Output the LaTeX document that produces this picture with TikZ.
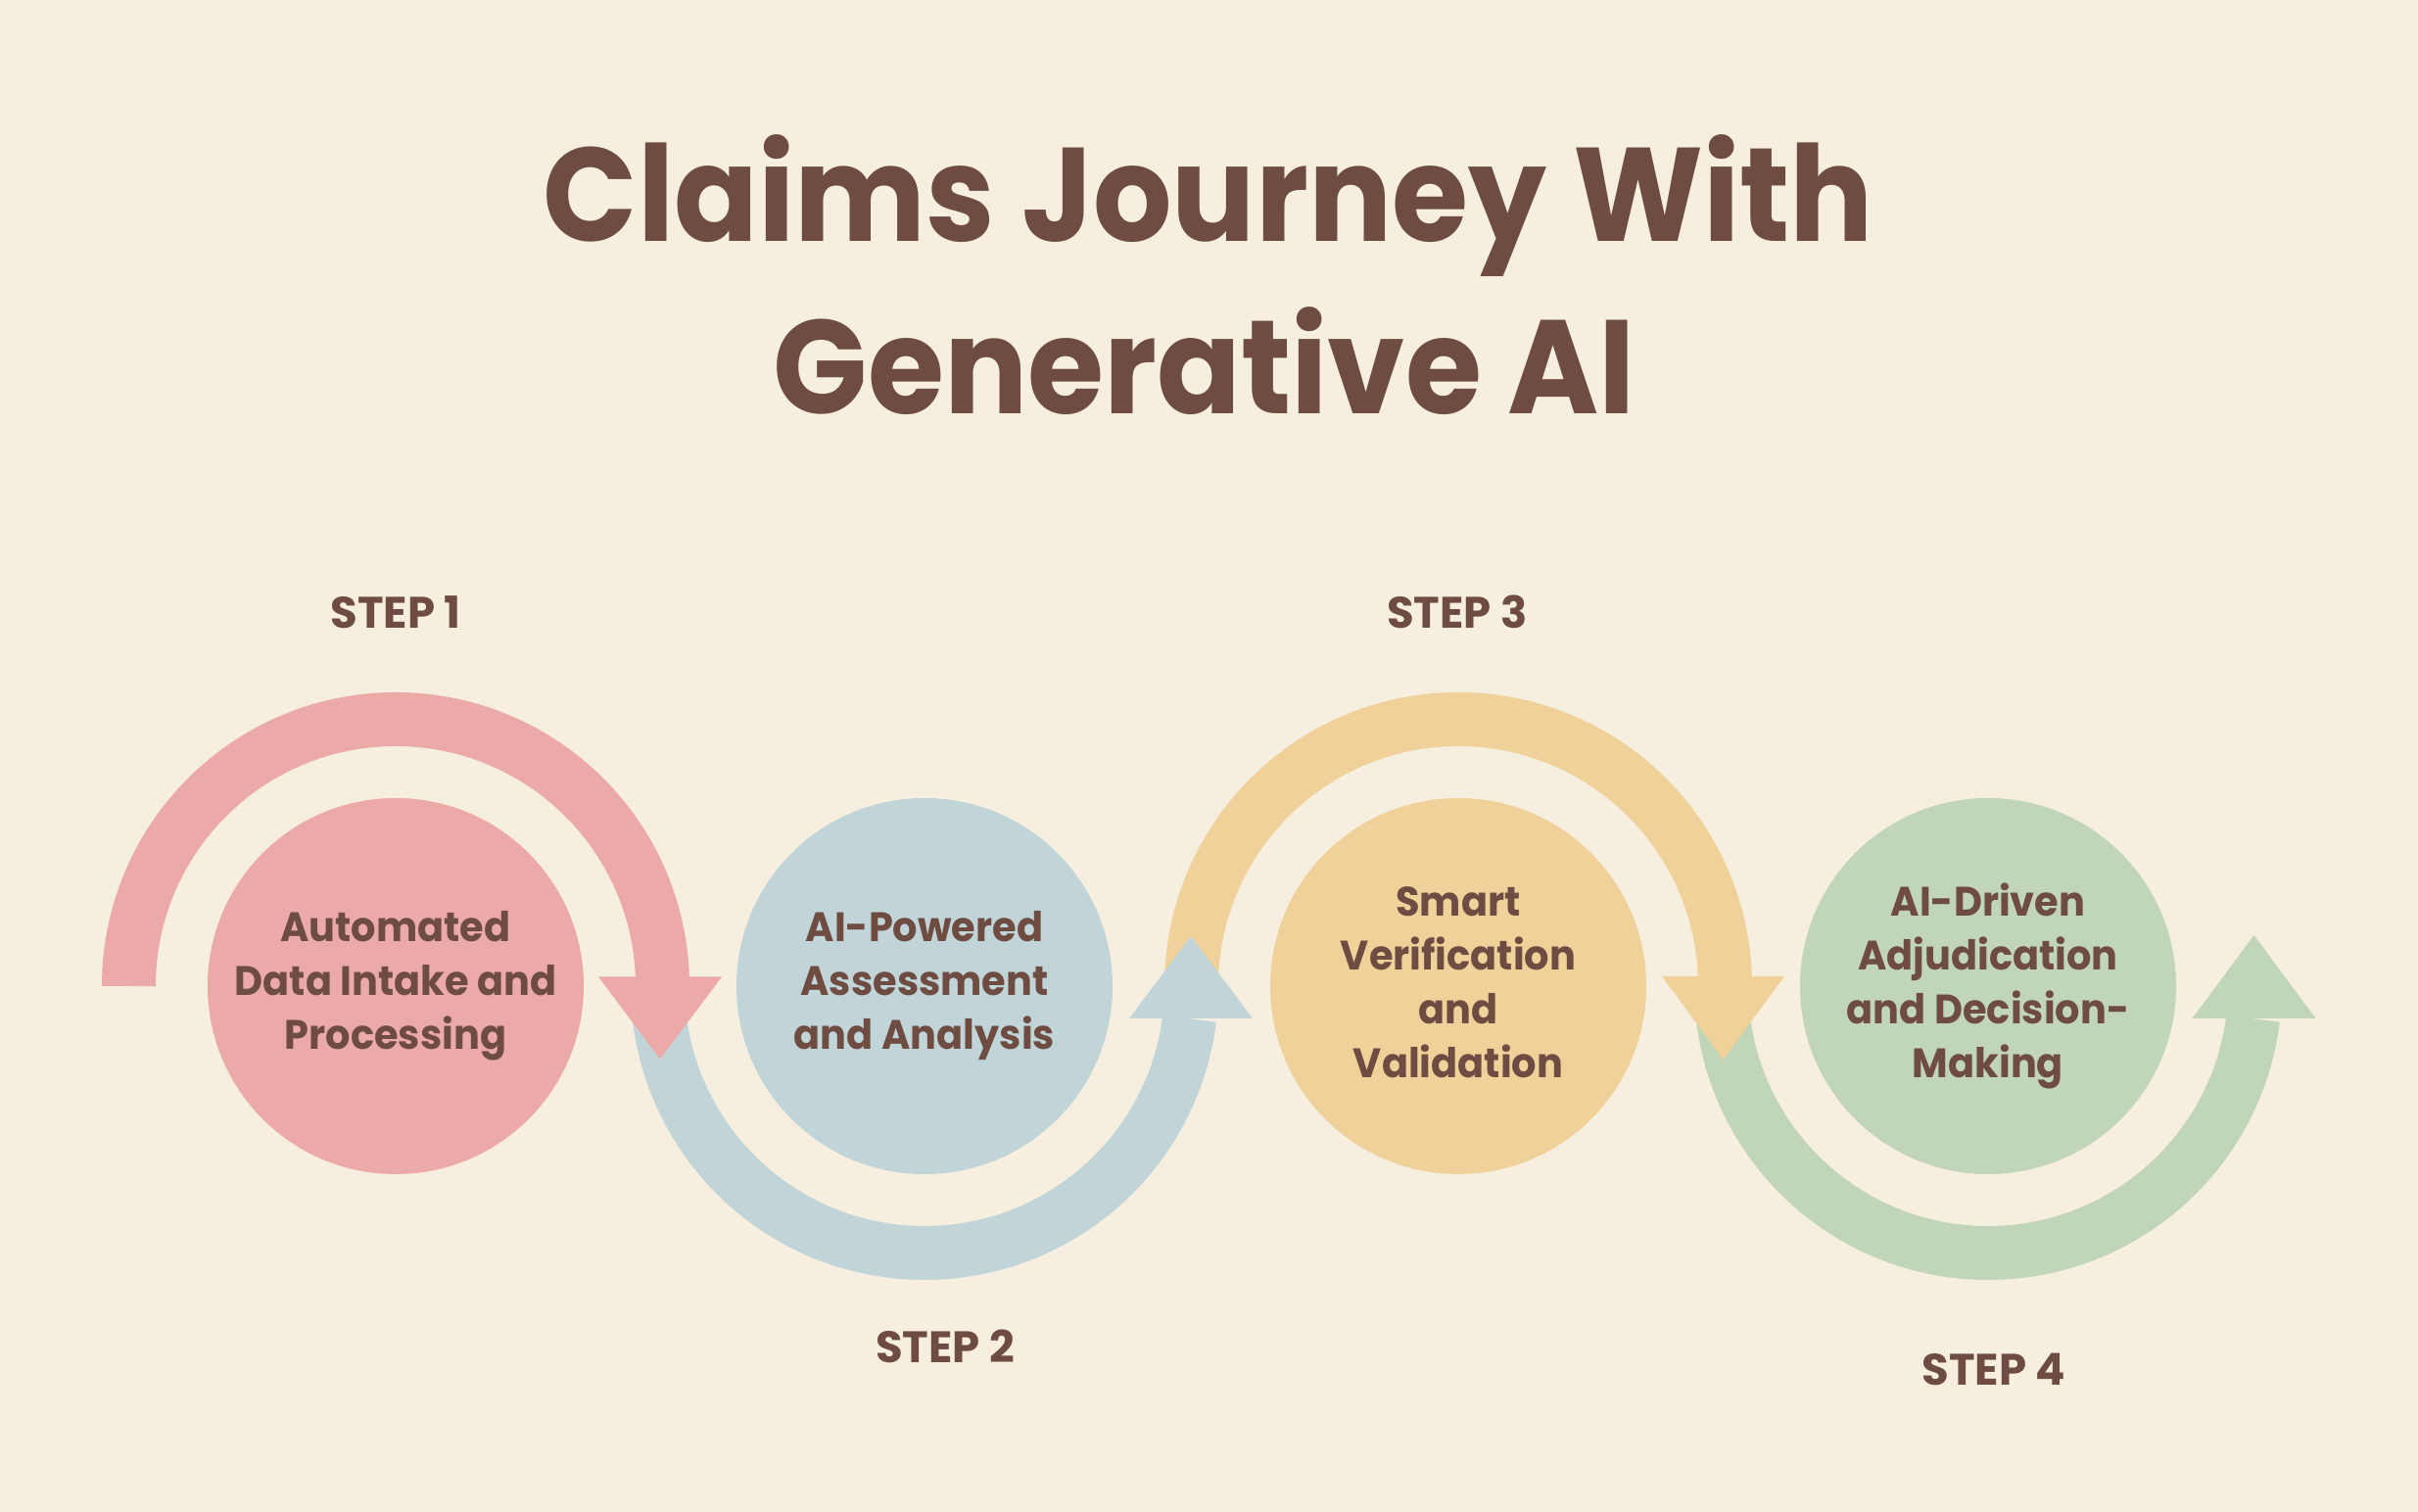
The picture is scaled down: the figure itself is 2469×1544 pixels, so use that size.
\documentclass[tikz,border=0pt]{standalone}
\usepackage{fontspec}
\setmainfont{Poppins}
\newfontfamily\titlefamily{Poppins}[FakeStretch=0.93]
\newfontfamily\circfamily{Poppins}[FakeStretch=0.95]
\usetikzlibrary{calc}
\definecolor{bgc}{HTML}{F6EEDF}
\definecolor{txtc}{HTML}{6E4C42}
\definecolor{pinkc}{HTML}{EBAAA8}
\definecolor{bluec}{HTML}{C1D5D8}
\definecolor{yellowc}{HTML}{F0D19A}
\definecolor{greenc}{HTML}{C1D5B9}
\begin{document}
\begin{tikzpicture}[x=1pt,y=1pt,
  band/.style={line width=55pt},
  disc/.style={circle, minimum size=384pt, inner sep=0pt},
  lbl/.style={text=txtc, font=\circfamily\bfseries\fontsize{42}{55}\selectfont, align=center, inner sep=0pt},
  steplbl/.style={text=txtc, font=\bfseries\fontsize{45}{50}\selectfont, anchor=base, inner sep=0pt},
  titlelbl/.style={text=txtc, font=\titlefamily\bfseries\fontsize{136}{176}\selectfont, anchor=base, inner sep=0pt}]
\fill[bgc] (0,0) rectangle (2469,1544);
\useasboundingbox (0,0) rectangle (2469,1544);

% title
\node[titlelbl] (title1) at (1234,1297) {Claims Journey With};
\node[titlelbl] (title2) at (1230,1121) {Generative AI};

% circles
\node[disc, fill=pinkc] (c1) at (404,537) {};
\node[disc, fill=bluec] (c2) at (944,537) {};
\node[disc, fill=yellowc] (c3) at (1489,537) {};
\node[disc, fill=greenc] (c4) at (2030,537) {};

% arrows (green, yellow, blue, pink order)
\coordinate (g0) at ($(c4)+(-272.5,0)$);
\draw[band, greenc] (g0) arc[start angle=180, end angle=353, radius=272.5];
\fill[greenc] (2238.5,504) -- (2364.5,504) -- (2301.5,589) -- cycle;

\coordinate (y0) at ($(c3)+(-272.5,0)$);
\draw[band, yellowc] (y0) arc[start angle=180, end angle=0, radius=272.5];
\fill[yellowc] (1697,547) -- (1822,547) -- (1759.5,462) -- cycle;

\coordinate (b0) at ($(c2)+(-272.5,0)$);
\draw[band, bluec] (b0) arc[start angle=180, end angle=353, radius=272.5];
\fill[bluec] (1153,504) -- (1279,504) -- (1216,588) -- cycle;

\coordinate (p0) at ($(c1)+(-272.5,0)$);
\draw[band, pinkc] (p0) arc[start angle=180, end angle=0, radius=272.5];
\fill[pinkc] (611,546.5) -- (737,546.5) -- (674,462.5) -- cycle;

% circle texts
\node[lbl] (t1) at (c1) {Automated\\Data Intake and\\Processing};
\node[lbl] (t2) at (c2) {AI-Powered\\Assessment\\and Analysis};
\node[lbl] (t3) at ($(c3)+(0,4)$) {Smart\\Verification\\and\\Validation};
\node[lbl] (t4) at (c4) {AI-Driven\\Adjudication\\and Decision-\\Making};

% step labels
\node[steplbl] (s1) at (404,902) {STEP 1};
\node[steplbl] (s2) at (965,152) {STEP 2};
\node[steplbl] (s3) at (1488,902) {STEP 3};
\node[steplbl] (s4) at (2036,129) {STEP 4};
\end{tikzpicture}
\end{document}
